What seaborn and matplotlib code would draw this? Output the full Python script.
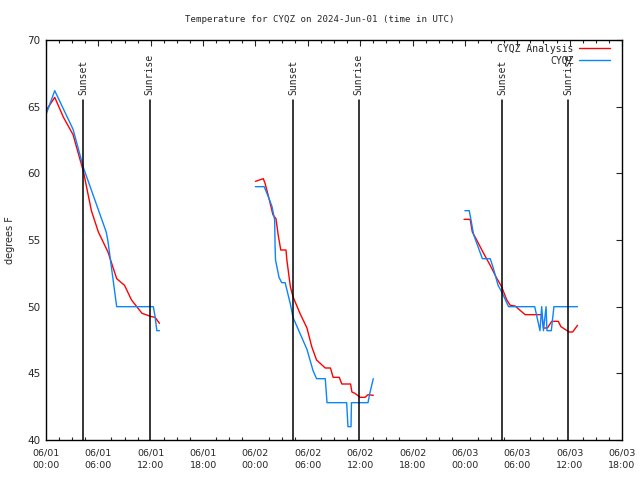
import numpy as np
import pandas as pd
import matplotlib
matplotlib.use("Agg")
import matplotlib.pyplot as plt
import seaborn as sns
from matplotlib.ticker import MultipleLocator

# hours since 2024-06-01 00:00 UTC, temperatures in F
analysis_hours = [
    [0.0, 1.0, 2.0, 3.1, 4.3, 5.2, 6.0, 7.1, 8.1, 9.0, 9.8, 11.0, 12.1, 12.5, 13.0],
    [24.0, 24.9, 25.1, 25.5, 26.0, 26.35, 26.6, 26.9, 27.5, 27.6, 28.0, 28.3, 29.1,
     29.9, 30.45, 31.0, 32.0, 32.6, 32.9, 33.6, 33.9, 34.9, 35.05, 35.4, 36.0, 36.55,
     36.9, 37.5],
    [47.9, 48.6, 48.85, 49.35, 50.1, 50.9, 51.55, 52.2, 52.8, 53.2, 53.75, 54.9, 56.8,
     57.0, 57.45, 57.95, 58.7, 59.0, 59.95, 60.35, 60.9],
]
analysis_temps = [
    [64.7, 65.7, 64.2, 62.9, 60.1, 57.2, 55.6, 54.1, 52.1, 51.6, 50.5, 49.5, 49.25, 49.2, 48.75],
    [59.4, 59.6, 59.25, 58.25, 56.9, 56.6, 55.4, 54.25, 54.25, 53.5, 51.5, 50.75, 49.5,
     48.4, 47.0, 46.0, 45.4, 45.4, 44.7, 44.7, 44.2, 44.2, 43.6, 43.5, 43.2, 43.2,
     43.4, 43.35],
    [56.55, 56.55, 55.6, 55.0, 54.05, 53.1, 52.25, 51.5, 50.5, 50.1, 50.05, 49.4, 49.4,
     48.4, 48.4, 48.9, 48.9, 48.5, 48.1, 48.1, 48.6],
]
obs_hours = [
    [0.0, 1.0, 3.1, 4.3, 6.9, 7.1, 8.1, 12.3, 12.5, 12.7, 13.0],
    [24.0, 25.0, 25.5, 25.9, 26.2, 26.25, 26.3, 26.7, 27.0, 27.4, 28.0, 28.3, 29.1,
     29.9, 30.6, 31.0, 32.0, 32.2, 34.45, 34.6, 34.95, 35.0, 36.9, 37.1, 37.5],
    [48.0, 48.5, 49.0, 50.0, 50.9, 51.25, 51.8, 52.3, 53.0, 56.0, 56.6, 56.8, 57.0,
     57.3, 57.4, 57.9, 58.2, 60.9],
]
obs_temps = [
    [64.4, 66.2, 63.3, 60.4, 55.6, 54.9, 50.0, 50.0, 49.25, 48.2, 48.2],
    [59.0, 59.0, 58.2, 57.5, 56.5, 54.5, 53.5, 52.2, 51.8, 51.8, 50.2, 49.2, 48.0,
     46.8, 45.2, 44.6, 44.6, 42.8, 42.8, 41.0, 41.0, 42.8, 42.8, 43.5, 44.6],
    [57.2, 57.2, 55.4, 53.6, 53.6, 52.9, 51.6, 51.0, 50.0, 50.0, 48.2, 50.0, 48.2,
     50.0, 48.2, 48.2, 50.0, 50.0],
]

sunset_hours = [4.25, 28.3, 52.25]
sunrise_hours = [11.9, 35.85, 59.8]

xtick_labels = ["06/01\n00:00", "06/01\n06:00", "06/01\n12:00", "06/01\n18:00",
                "06/02\n00:00", "06/02\n06:00", "06/02\n12:00", "06/02\n18:00",
                "06/03\n00:00", "06/03\n06:00", "06/03\n12:00", "06/03\n18:00"]

rows = []
for name, hrs, tmps in [("CYQZ Analysis", analysis_hours, analysis_temps),
                        ("CYQZ", obs_hours, obs_temps)]:
    for seg, (h, t) in enumerate(zip(hrs, tmps)):
        for hh, tt in zip(h, t):
            rows.append({"series": name, "seg": seg, "hour": hh, "temp": tt})
df = pd.DataFrame(rows)

sns.set_style("white")
mono = "DejaVu Sans Mono"

fig = plt.figure(figsize=(6.4, 4.8), dpi=100)
ax = fig.add_axes([46 / 640, 40 / 480, 576 / 640, 400 / 480])

sns.lineplot(data=df, x="hour", y="temp", hue="series",
             hue_order=["CYQZ Analysis", "CYQZ"],
             palette={"CYQZ Analysis": "#ff0000", "CYQZ": "#0a84ff"},
             units="seg", estimator=None, sort=False, linewidth=1.0, ax=ax)

# sunset / sunrise markers
for h in sunset_hours:
    ax.plot([h, h], [40, 65.5], color="black", lw=1.1)
    ax.text(h, 65.9, "Sunset", rotation=90, ha="center", va="bottom",
            family=mono, fontsize=7)
for h in sunrise_hours:
    ax.plot([h, h], [40, 65.5], color="black", lw=1.1)
    ax.text(h, 65.9, "Sunrise", rotation=90, ha="center", va="bottom",
            family=mono, fontsize=7)

ax.set_xlim(0, 66)
ax.set_ylim(40, 70)
ax.set_xticks(np.arange(0, 67, 6))
ax.set_xticklabels(xtick_labels, fontsize=6.8, linespacing=1.5)
ax.xaxis.set_minor_locator(MultipleLocator(1.5))
ax.set_yticks(np.arange(40, 71, 5))
ax.tick_params(axis="y", labelsize=7.5)
ax.tick_params(which="major", direction="in", length=4.5, width=0.8,
               top=True, right=True, pad=4)
ax.tick_params(axis="x", which="major", pad=6)
ax.tick_params(which="minor", direction="in", length=2.3, width=0.8,
               top=True, bottom=True)
for s in ax.spines.values():
    s.set_linewidth(1.0)
    s.set_color("black")

ax.set_xlabel("")
ax.set_ylabel("degrees F", fontsize=7, labelpad=9)
fig.text(0.5, 1 - 19 / 480, "Temperature for CYQZ on 2024-Jun-01 (time in UTC)",
         ha="center", va="center", family=mono, fontsize=6.6)

handles, labels = ax.get_legend_handles_labels()
ax.legend(handles, labels, loc="upper right", frameon=False, markerfirst=False,
          prop={"family": mono, "size": 7}, handlelength=3.2, handletextpad=0.6,
          labelspacing=0.2, borderaxespad=0.2, bbox_to_anchor=(0.99, 1.005))

fig.savefig("out.png", dpi=100)
